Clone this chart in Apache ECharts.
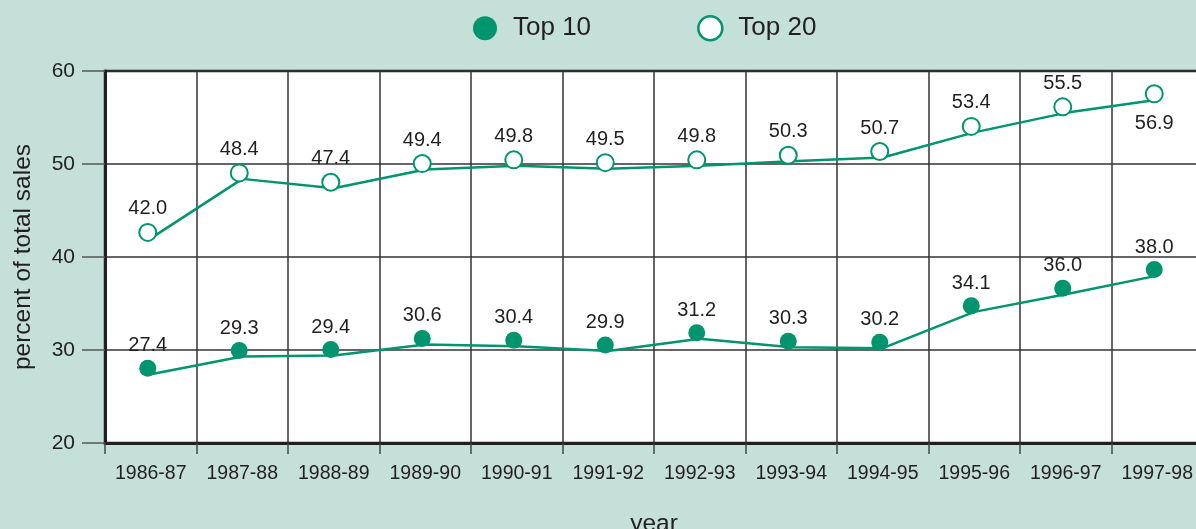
<!DOCTYPE html>
<html>
<head>
<meta charset="utf-8">
<script src="https://cdn.jsdelivr.net/npm/echarts@6/dist/echarts.min.js"></script>
<style>
  html, body { margin: 0; padding: 0; background: #c5e0d8; }
  #chart { width: 1196px; height: 529px; }
</style>
</head>
<body>
<div id="chart"></div>
<script>
// Share of total sales held by the top 10 and top 20 firms, by year
const years = ['1986-87', '1987-88', '1988-89', '1989-90', '1990-91', '1991-92',
               '1992-93', '1993-94', '1994-95', '1995-96', '1996-97', '1997-98'];
const top10 = [27.4, 29.3, 29.4, 30.6, 30.4, 29.9, 31.2, 30.3, 30.2, 34.1, 36.0, 38.0];
const top20 = [42.0, 48.4, 47.4, 49.4, 49.8, 49.5, 49.8, 50.3, 50.7, 53.4, 55.5, 56.9];
const yTicks = [20, 30, 40, 50, 60];

const GREEN = '#00956f';
const INK = '#231f20';
const FONT = '"Liberation Sans", Arial, Helvetica, sans-serif';

const chart = echarts.init(document.getElementById('chart'));

function valueLabel(extra) {
  return Object.assign({
    show: true,
    position: 'top',
    distance: 4,
    color: INK,
    fontSize: 20,
    fontFamily: FONT,
    formatter: p => p.value.toFixed(1)
  }, extra || {});
}

// The last Top 20 value carries its label beneath the point
const lastIdx = top20.length - 1;
const top20Data = top20.map((v, i) => i === lastIdx
  ? { value: v, label: { position: 'bottom', distance: 10 } }
  : v);

chart.setOption({
  backgroundColor: '#c5e0d8',
  animation: false,
  legend: {
    top: 10,
    left: 468,
    itemWidth: 24,
    itemHeight: 24,
    itemGap: 106,
    textStyle: { color: INK, fontSize: 26, fontFamily: FONT, padding: [0, 0, 0, 11] },
    data: [
      { name: 'Top 10', icon: 'circle' },
      { name: 'Top 20', icon: 'circle',
        itemStyle: { color: '#ffffff', borderColor: GREEN, borderWidth: 2.5, opacity: 1 } }
    ]
  },
  grid: {
    left: 105, top: 71, width: 1098, height: 372,
    outerBoundsMode: 'none',
    containLabel: false,
    show: true, backgroundColor: '#ffffff',
    borderColor: INK, borderWidth: 2.5
  },
  xAxis: {
    type: 'category',
    data: years,
    boundaryGap: true,
    name: 'year',
    nameLocation: 'middle',
    nameGap: 69,
    nameTextStyle: { color: INK, fontSize: 24.5, fontFamily: FONT },
    axisLine: { lineStyle: { color: INK, width: 3 } },
    axisTick: { show: true, length: 11, lineStyle: { color: '#444', width: 1.5 } },
    axisLabel: { color: INK, fontSize: 19.5, fontFamily: FONT, margin: 21, interval: 0 },
    splitLine: { show: true, interval: 0, lineStyle: { color: '#333', width: 1.5 } }
  },
  yAxis: {
    type: 'value',
    min: yTicks[0],
    max: yTicks[yTicks.length - 1],
    interval: 10,
    name: 'percent of total sales',
    nameLocation: 'middle',
    nameGap: 69,
    nameTextStyle: { color: INK, fontSize: 24.5, fontFamily: FONT },
    axisLine: { show: true, lineStyle: { color: INK, width: 3 } },
    axisTick: { show: true, inside: false, length: 23, lineStyle: { color: '#555', width: 1.5 } },
    axisLabel: { color: INK, fontSize: 21, fontFamily: FONT, margin: 30 },
    splitLine: { show: true, lineStyle: { color: '#333', width: 1.5 } }
  },
  series: [
    {
      name: 'Top 10',
      type: 'line',
      data: top10,
      color: GREEN,
      lineStyle: { color: GREEN, width: 2.5 },
      symbol: 'circle',
      symbolSize: 17,
      symbolOffset: [-3, -6],
      itemStyle: { color: GREEN },
      label: valueLabel(),
      z: 3
    },
    {
      name: 'Top 20',
      type: 'line',
      data: top20Data,
      color: GREEN,
      lineStyle: { color: GREEN, width: 2.5 },
      symbol: 'emptyCircle',
      symbolSize: 17,
      symbolOffset: [-3, -6],
      itemStyle: { color: GREEN, borderColor: GREEN, borderWidth: 2 },
      label: valueLabel(),
      z: 3
    }
  ]
});
</script>
</body>
</html>
